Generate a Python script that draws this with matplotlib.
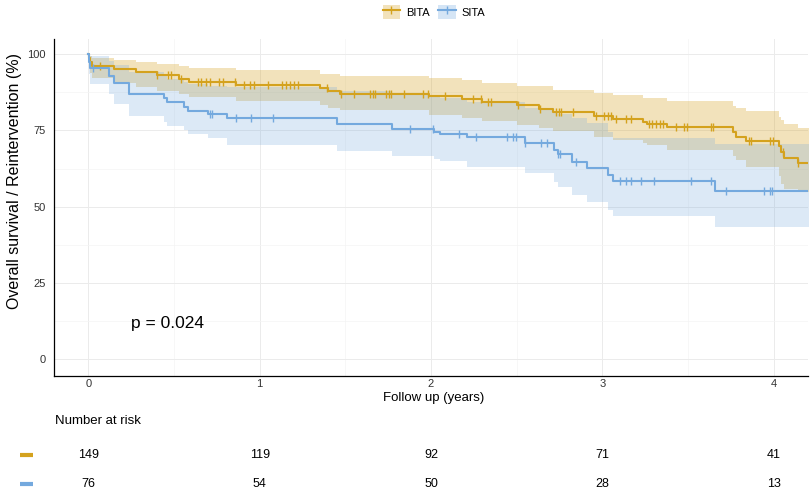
import numpy as np
import matplotlib.pyplot as plt
import matplotlib.transforms as mtransforms
from matplotlib.lines import Line2D
from matplotlib.patches import Patch

plt.rcParams['font.family'] = ['Liberation Sans', 'DejaVu Sans']

groups = ['BITA', 'SITA']
colors = ['#D4A21E', '#74A9DE']

# BITA step curve (years, %), with confidence band
bita_t = [0, 0.005, 0.012, 0.02, 0.15, 0.28, 0.40, 0.53, 0.59, 0.86, 1.35, 1.40, 1.47, 1.99, 2.18,
          2.30, 2.50, 2.63, 2.71, 2.95, 3.06, 3.24, 3.26, 3.38, 3.76, 3.78, 3.84, 4.03, 4.04, 4.06, 4.14, 4.3]
bita_s = [100, 98.7, 97.3, 96.2, 95.1, 94.1, 93.1, 92.0, 91.0, 90.0, 88.8, 87.9, 87.0, 86.3, 85.4,
          84.2, 83.2, 82.1, 81.1, 79.9, 78.8, 77.8, 77.1, 76.2, 74.5, 73.0, 71.4, 69.8, 68.0, 66.1, 64.4, 64.4]
bita_hi = [100, 99.8, 99.3, 98.8, 98.2, 97.3, 96.7, 96.1, 95.5, 94.7, 93.6, 93.4, 92.9, 92.3, 91.6,
           90.6, 89.6, 89.6, 88.4, 87.4, 86.7, 85.7, 85.7, 84.6, 83.0, 82.4, 81.3, 79.5, 78.3, 77.1, 75.8, 75.8]
bita_lo = [100, 96.0, 93.8, 92.3, 90.6, 89.1, 88.0, 87.0, 85.9, 84.6, 83.4, 82.5, 81.6, 80.2, 79.1,
           78.0, 76.8, 75.8, 74.7, 73.0, 72.0, 71.0, 70.3, 68.6, 66.5, 65.3, 63.0, 60.0, 57.5, 55.8, 54.9, 54.9]
bita_cens = [0.067, 0.40, 0.465, 0.48, 0.54, 0.64, 0.655, 0.685, 0.71, 0.765, 0.785, 0.854, 0.91, 0.945,
             0.965, 1.05, 1.13, 1.155, 1.175, 1.2, 1.223, 1.395, 1.476, 1.55, 1.645, 1.66, 1.675, 1.74,
             1.755, 1.765, 1.84, 1.955, 1.985, 2.08, 2.244, 2.29, 2.335, 2.352, 2.51, 2.635, 2.728, 2.745,
             2.756, 2.827, 2.963, 3.01, 3.035, 3.05, 3.08, 3.14, 3.167, 3.274, 3.292, 3.312, 3.335, 3.354,
             3.43, 3.478, 3.495, 3.632, 3.645, 3.853, 3.87, 3.977, 3.993, 4.055, 4.14]

# SITA step curve
sita_t = [0, 0.005, 0.01, 0.12, 0.15, 0.24, 0.44, 0.46, 0.56, 0.58, 0.70, 0.81, 1.45, 1.77, 2.02, 2.05,
          2.21, 2.55, 2.72, 2.74, 2.82, 2.91, 3.03, 3.06, 3.66, 4.3]
sita_s = [100, 97.4, 95.4, 92.9, 90.5, 87.0, 85.6, 84.2, 82.7, 81.5, 80.3, 79.0, 77.1, 75.6, 74.6, 73.9,
          72.8, 70.8, 68.7, 67.2, 64.8, 62.6, 60.4, 58.4, 55.1, 55.1]
sita_hi = [100, 99.8, 99.3, 97.8, 96.5, 94.2, 93.0, 92.0, 91.0, 90.2, 89.6, 89.2, 88.0, 86.8, 86.0, 85.5,
           84.3, 82.4, 81.0, 80.5, 79.0, 77.4, 74.5, 72.5, 70.5, 70.5]
sita_lo = [100, 93.5, 90.3, 87.0, 83.6, 79.8, 77.8, 76.4, 75.0, 73.8, 72.5, 70.2, 68.3, 66.7, 65.8, 64.9,
           63.1, 60.9, 58.2, 56.5, 53.8, 51.5, 49.0, 46.8, 43.3, 43.3]
sita_cens = [0.028, 0.708, 0.722, 0.864, 0.95, 1.078, 1.875, 2.01, 2.166, 2.265, 2.446, 2.477, 2.497,
             2.55, 2.643, 2.678, 2.742, 2.755, 2.846, 3.102, 3.138, 3.167, 3.226, 3.303, 3.517, 3.632,
             3.72, 3.945, 3.98, 3.988]

risk_times = [0, 1, 2, 3, 4]
risk_bita = [149, 119, 92, 71, 41]
risk_sita = [76, 54, 50, 28, 13]

fig = plt.figure(figsize=(8.1, 4.92), dpi=100)
ax = fig.add_axes([54 / 810, 1 - 376 / 492, 754 / 810, 337 / 492])

curves = [(bita_t, bita_s, bita_lo, bita_hi, bita_cens, 0.30),
          (sita_t, sita_s, sita_lo, sita_hi, sita_cens, 0.25)]
for (t, s, lo, hi, cens, a), col in zip(curves, colors):
    ax.fill_between(t, lo, hi, step='post', color=col, alpha=a, lw=0)
for (t, s, lo, hi, cens, a), col in zip(curves, colors):
    t = np.asarray(t)
    s = np.asarray(s)
    ax.step(t, s, where='post', color=col, lw=1.5)
    idx = np.searchsorted(t, cens, side='right') - 1
    ax.plot(cens, s[idx], ls='none', marker='|', ms=6, mew=1.0, color=col)

ax.set_xlim(-0.2, 4.2)
ax.set_ylim(-5.5, 105)
ax.set_xticks([0, 1, 2, 3, 4])
ax.set_yticks([0, 25, 50, 75, 100])
ax.set_xticks(np.arange(0.5, 4.2, 1), minor=True)
ax.set_yticks(np.arange(12.5, 100, 25), minor=True)
ax.grid(which='major', color='#EBEBEB', lw=0.7)
ax.grid(which='minor', color='#F4F4F4', lw=0.5)
ax.set_axisbelow(True)
for sp in ['top', 'right']:
    ax.spines[sp].set_visible(False)
for sp in ['left', 'bottom']:
    ax.spines[sp].set_linewidth(0.9)
ax.tick_params(which='both', length=0, labelsize=8, colors='#333333')
ax.tick_params(axis='x', pad=2)
ax.tick_params(axis='y', pad=6)

ax.set_xlabel('Follow up (years)', fontsize=9.5)
ax.xaxis.set_label_coords(0.503, -0.064)
ax.xaxis.label.set_va('center')
ax.set_ylabel('Overall survival / Reintervention (%)', fontsize=11.5)
ax.yaxis.set_label_coords(-0.052, 0.578)
ax.yaxis.label.set_va('center')

ax.text(0.25, 11.8, 'p = 0.024', fontsize=12.5, ha='left', va='center')

# legend on top
handles = [(Patch(facecolor=c, alpha=0.3, lw=0),
            Line2D([], [], color=c, lw=1.5, marker='|', ms=6, mew=1.0)) for c in colors]
fig.legend(handles, groups, loc='center', bbox_to_anchor=(434 / 810, 1 - 12 / 492), ncol=2,
           frameon=False, fontsize=8, handlelength=1.6, handleheight=1.6,
           columnspacing=0.8, handletextpad=0.5)

# number at risk table
fig.text(55 / 810, 1 - 421 / 492, 'Number at risk', fontsize=9.5, ha='left', va='center')
trans = mtransforms.blended_transform_factory(ax.transData, fig.transFigure)
for row, (vals, col) in enumerate(zip([risk_bita, risk_sita], colors)):
    yy = 1 - (455 + 29 * row) / 492
    for x, v in zip(risk_times, vals):
        fig.text(x, yy, str(v), transform=trans, fontsize=9, ha='center', va='center')
    fig.add_artist(Line2D([20 / 810, 33 / 810], [yy, yy], transform=fig.transFigure,
                          color=col, lw=3, solid_capstyle='butt'))

fig.savefig('out.png', dpi=100)
